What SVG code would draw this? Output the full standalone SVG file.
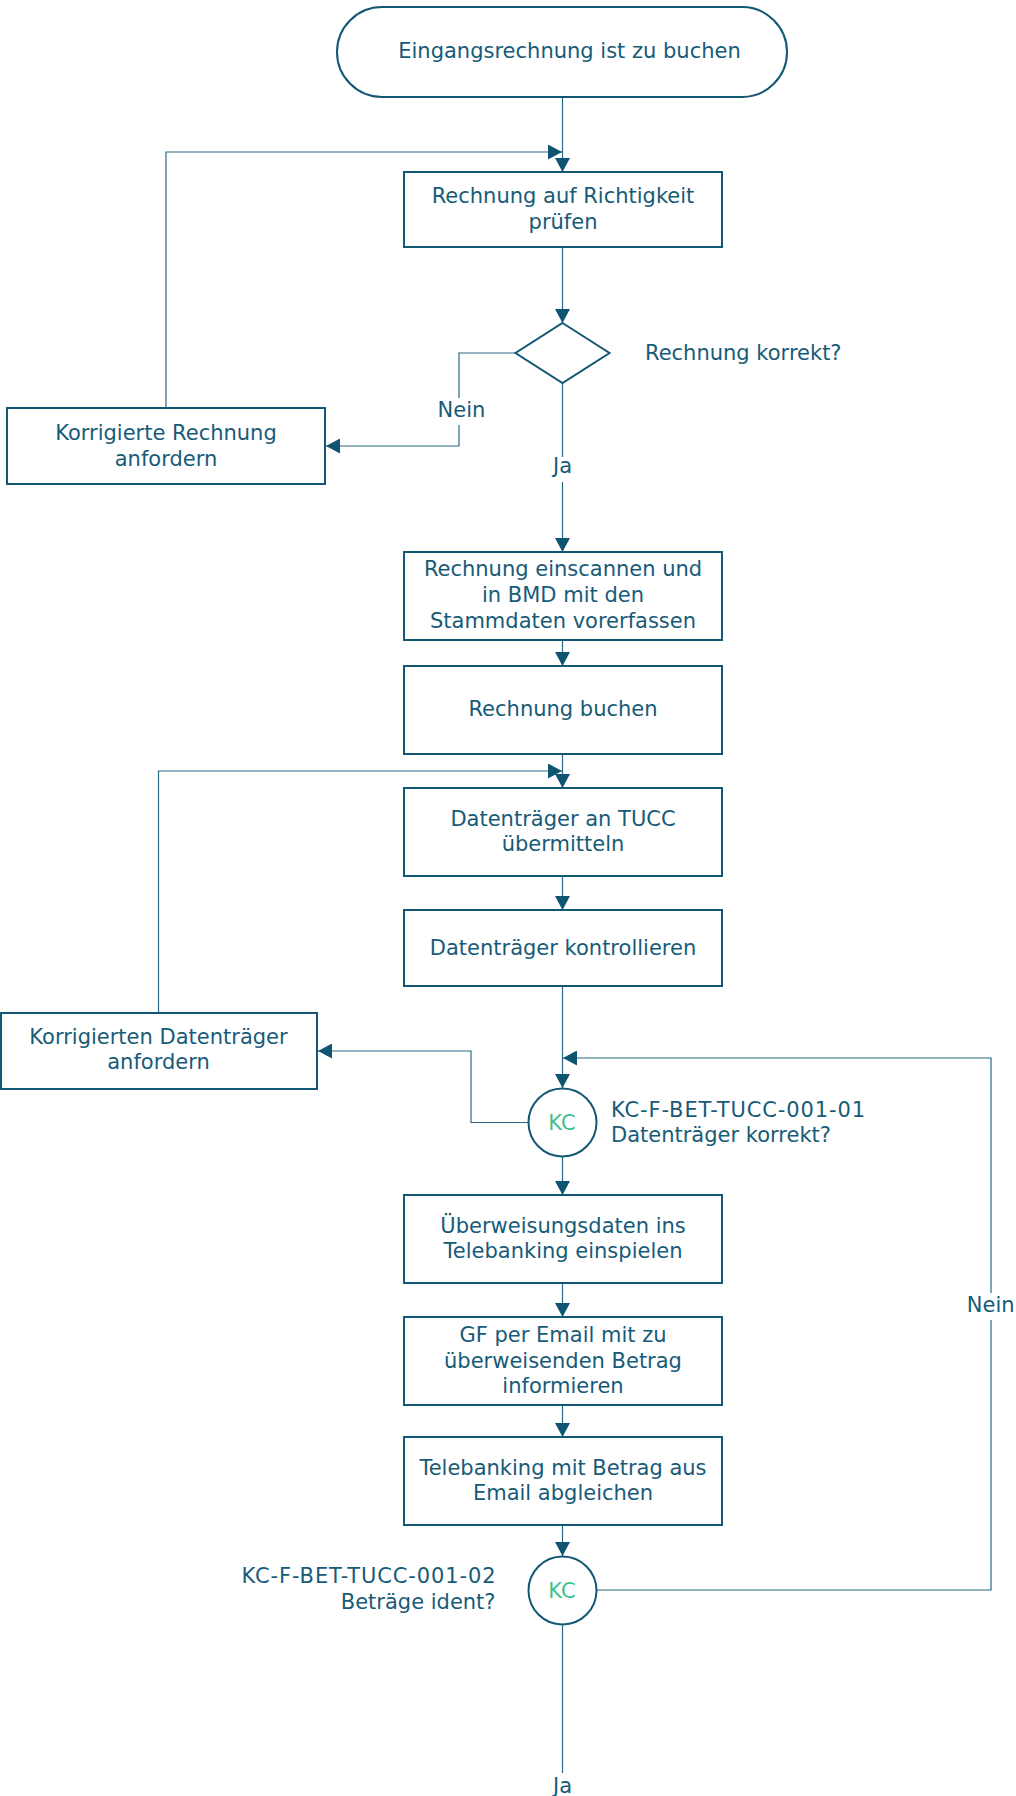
<svg xmlns="http://www.w3.org/2000/svg" width="1016" height="1796" viewBox="0 0 1016 1796">
<style>
.n{fill:#fff;stroke:#125774;stroke-width:2}
.t{font-family:"DejaVu Sans","Liberation Sans",sans-serif;font-size:21px;fill:#175b78}
.m{text-anchor:middle}
.e{text-anchor:end}
.kc{font-family:"DejaVu Sans","Liberation Sans",sans-serif;font-size:21px;fill:#45bf8e;text-anchor:middle}
.c{fill:none;stroke:#2a6a86;stroke-width:1.2}
.a{marker-end:url(#ah)}
.lb{fill:#fff;stroke:none}
</style>
<defs>
<marker id="ah" markerUnits="userSpaceOnUse" markerWidth="15" markerHeight="15" refX="14" refY="7.5" orient="auto" viewBox="0 0 15 15">
<path d="M0,0 L14,7.5 L0,15 z" fill="#0f5470"/>
</marker>
</defs>
<rect width="1016" height="1796" fill="#fff"/>
<g id="connectors">
<path class="c a" d="M562.5,97 V172"/>
<path class="c a" d="M166,408 V152 H562"/>
<path class="c a" d="M562.5,247 V323"/>
<path class="c a" d="M515.5,353 H459 V446 H326"/>
<path class="c a" d="M562.5,383 V552"/>
<path class="c a" d="M562.5,640 V666"/>
<path class="c a" d="M562.5,754 V788"/>
<path class="c a" d="M158.5,1013 V771 H562"/>
<path class="c a" d="M562.5,876 V910"/>
<path class="c a" d="M562.5,986 V1088"/>
<path class="c a" d="M528.5,1122.5 H471 V1051 H318"/>
<path class="c a" d="M562.5,1157 V1195"/>
<path class="c a" d="M562.5,1283 V1317"/>
<path class="c a" d="M562.5,1405 V1437"/>
<path class="c a" d="M562.5,1525 V1556"/>
<path class="c a" d="M596.5,1590 H991 V1058 H563"/>
<path class="c" d="M562.5,1625 V1773"/>
<rect class="lb" x="436" y="398" width="52" height="27"/>
<text class="t m" x="461.5" y="417">Nein</text>
<rect class="lb" x="546" y="457" width="34" height="25"/>
<text class="t m" x="562.5" y="473">Ja</text>
<rect class="lb" x="965" y="1293" width="52" height="27"/>
<text class="t m" x="990.7" y="1312">Nein</text>
<text class="t m" x="562.5" y="1793">Ja</text>
</g>
<g id="start">
<rect class="n" x="337" y="7" width="450" height="90" rx="45" ry="45"/>
<text class="t m" x="569.5" y="58">Eingangsrechnung ist zu buchen</text>
</g>
<g id="pruefen">
<rect class="n" x="404" y="172" width="318" height="75"/>
<text class="t m" x="563" y="203">Rechnung auf Richtigkeit</text>
<text class="t m" x="563" y="229">prüfen</text>
</g>
<g id="korrekt">
<path class="n" d="M562.5,323 L609.5,353 L562.5,383 L515.5,353 z"/>
<text class="t" x="645" y="360">Rechnung korrekt?</text>
</g>
<g id="korr_rechnung">
<rect class="n" x="7" y="408" width="318" height="76"/>
<text class="t m" x="166" y="440">Korrigierte Rechnung</text>
<text class="t m" x="166" y="466">anfordern</text>
</g>
<g id="einscannen">
<rect class="n" x="404" y="552" width="318" height="88"/>
<text class="t m" x="563" y="576">Rechnung einscannen und</text>
<text class="t m" x="563" y="602">in BMD mit den</text>
<text class="t m" x="563" y="628">Stammdaten vorerfassen</text>
</g>
<g id="buchen">
<rect class="n" x="404" y="666" width="318" height="88"/>
<text class="t m" x="563" y="716">Rechnung buchen</text>
</g>
<g id="uebermitteln">
<rect class="n" x="404" y="788" width="318" height="88"/>
<text class="t m" x="563" y="826">Datenträger an TUCC</text>
<text class="t m" x="563" y="851">übermitteln</text>
</g>
<g id="kontrollieren">
<rect class="n" x="404" y="910" width="318" height="76"/>
<text class="t m" x="563" y="955">Datenträger kontrollieren</text>
</g>
<g id="korr_datentraeger">
<rect class="n" x="1" y="1013" width="316" height="76"/>
<text class="t m" x="158.5" y="1044">Korrigierten Datenträger</text>
<text class="t m" x="158.5" y="1069">anfordern</text>
</g>
<g id="kc1">
<circle class="n" cx="562.5" cy="1122.5" r="34"/>
<text class="kc" x="562" y="1130">KC</text>
<text class="t" x="611" y="1117" textLength="254" lengthAdjust="spacing">KC-F-BET-TUCC-001-01</text>
<text class="t" x="611" y="1142">Datenträger korrekt?</text>
</g>
<g id="einspielen">
<rect class="n" x="404" y="1195" width="318" height="88"/>
<text class="t m" x="563" y="1233">Überweisungsdaten ins</text>
<text class="t m" x="563" y="1258">Telebanking einspielen</text>
</g>
<g id="informieren">
<rect class="n" x="404" y="1317" width="318" height="88"/>
<text class="t m" x="563" y="1342">GF per Email mit zu</text>
<text class="t m" x="563" y="1368">überweisenden Betrag</text>
<text class="t m" x="563" y="1393">informieren</text>
</g>
<g id="abgleichen">
<rect class="n" x="404" y="1437" width="318" height="88"/>
<text class="t m" x="563" y="1475">Telebanking mit Betrag aus</text>
<text class="t m" x="563" y="1500">Email abgleichen</text>
</g>
<g id="kc2">
<circle class="n" cx="562.5" cy="1590.5" r="34"/>
<text class="kc" x="562" y="1598">KC</text>
<text class="t" x="241.5" y="1583" textLength="254" lengthAdjust="spacing">KC-F-BET-TUCC-001-02</text>
<text class="t e" x="495.5" y="1609">Beträge ident?</text>
</g>
</svg>
